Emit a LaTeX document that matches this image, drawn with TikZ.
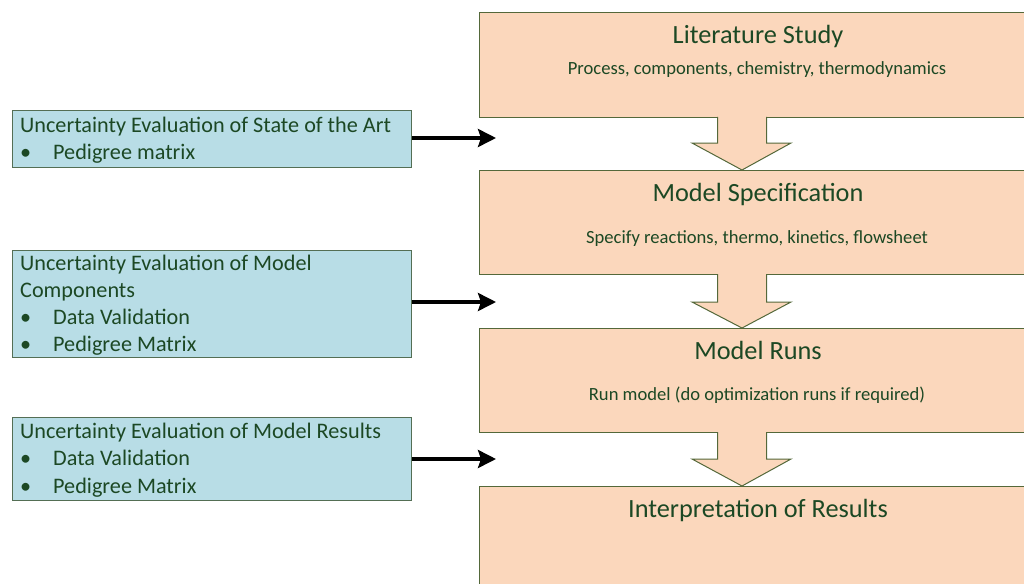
\documentclass[tikz,border=0pt]{standalone}
\usepackage{fontspec}
\setmainfont{Carlito}
\usetikzlibrary{arrows.meta}
\definecolor{txt}{RGB}{28,72,36}
\definecolor{ofill}{RGB}{251,215,188}
\definecolor{oline}{RGB}{84,104,58}
\definecolor{bfill}{RGB}{184,221,230}
\definecolor{bline}{RGB}{84,110,84}
\begin{document}
\begin{tikzpicture}[x=1pt,y=-1pt,
  obox/.style={draw=oline, fill=ofill, line width=1pt, anchor=north west, inner sep=0pt, minimum width=556pt},
  bbox/.style={draw=bline, fill=bfill, line width=1pt, anchor=north west, inner sep=0pt, minimum width=399pt},
  ttl/.style={text=txt, font=\fontsize{26.3}{30}\selectfont, inner sep=0pt, anchor=base},
  sub/.style={text=txt, font=\fontsize{18.6}{22}\selectfont, inner sep=0pt, anchor=base},
  bl/.style={text=txt, font=\fontsize{22.2}{26}\selectfont, inner sep=0pt, anchor=base west},
  blockarrow/.style={draw=oline, fill=ofill, line width=1pt, line join=miter},
  conn/.style={draw=black, line width=3.4pt, -{Stealth[length=18pt,width=18pt,inset=3pt]}}
]
\useasboundingbox (0,0) rectangle (1024,583);
\clip (0,0) rectangle (1024,583);

% orange process boxes
\node[obox, minimum height=105pt] (b1) at (479,12) {};
\node[obox, minimum height=104pt] (b2) at (479,170) {};
\node[obox, minimum height=104pt] (b3) at (479,328) {};
\node[obox, minimum height=110pt] (b4) at (479,486) {};

% block arrows between boxes
\foreach \t/\m/\n in {117/143/170, 274/302/328, 432/459/486}{
  \fill[ofill] (717.5,\t-2) -- (717.5,\m) -- (692,\m) -- (742,\n) -- (791,\m) -- (766.5,\m) -- (766.5,\t-2) -- cycle;
  \draw[blockarrow, fill=none] (717.5,\t) -- (717.5,\m) -- (692,\m) -- (742,\n) -- (791,\m) -- (766.5,\m) -- (766.5,\t);
}

% texts in orange boxes
\node[ttl] (t1) at (758,44) {Literature Study};
\node[sub] (s1) at (757,75) {Process, components, chemistry, thermodynamics};
\node[ttl] (t2) at (758,201) {Model Specification};
\node[sub] (s2) at (757,243) {Specify reactions, thermo, kinetics, flowsheet};
\node[ttl] (t3) at (758,359) {Model Runs};
\node[sub] (s3) at (757,400) {Run model (do optimization runs if required)};
\node[ttl] (t4) at (758,517) {Interpretation of Results};

% blue uncertainty boxes
\node[bbox, minimum height=57pt] (u1) at (12,110) {};
\node[bbox, minimum height=107pt] (u2) at (12,250) {};
\node[bbox, minimum height=83pt] (u3) at (12,417) {};

\node[bl] (u1a) at (20,132) {Uncertainty Evaluation of State of the Art};
\node[bl] (u1b) at (20,159) {\makebox[33pt][l]{•}Pedigree matrix};

\node[bl] (u2a) at (20,270) {Uncertainty Evaluation of Model};
\node[bl] (u2b) at (20,297) {Components};
\node[bl] (u2c) at (20,324) {\makebox[33pt][l]{•}Data Validation};
\node[bl] (u2d) at (20,351) {\makebox[33pt][l]{•}Pedigree Matrix};

\node[bl] (u3a) at (20,438) {Uncertainty Evaluation of Model Results};
\node[bl] (u3b) at (20,465) {\makebox[33pt][l]{•}Data Validation};
\node[bl] (u3c) at (20,493) {\makebox[33pt][l]{•}Pedigree Matrix};

% connectors
\coordinate (e1) at (496,138);
\coordinate (e2) at (496,302);
\coordinate (e3) at (496,459);
\draw[conn] (u1.east |- e1) -- (e1);
\draw[conn] (u2.east |- e2) -- (e2);
\draw[conn] (u3.east |- e3) -- (e3);
\end{tikzpicture}
\end{document}
